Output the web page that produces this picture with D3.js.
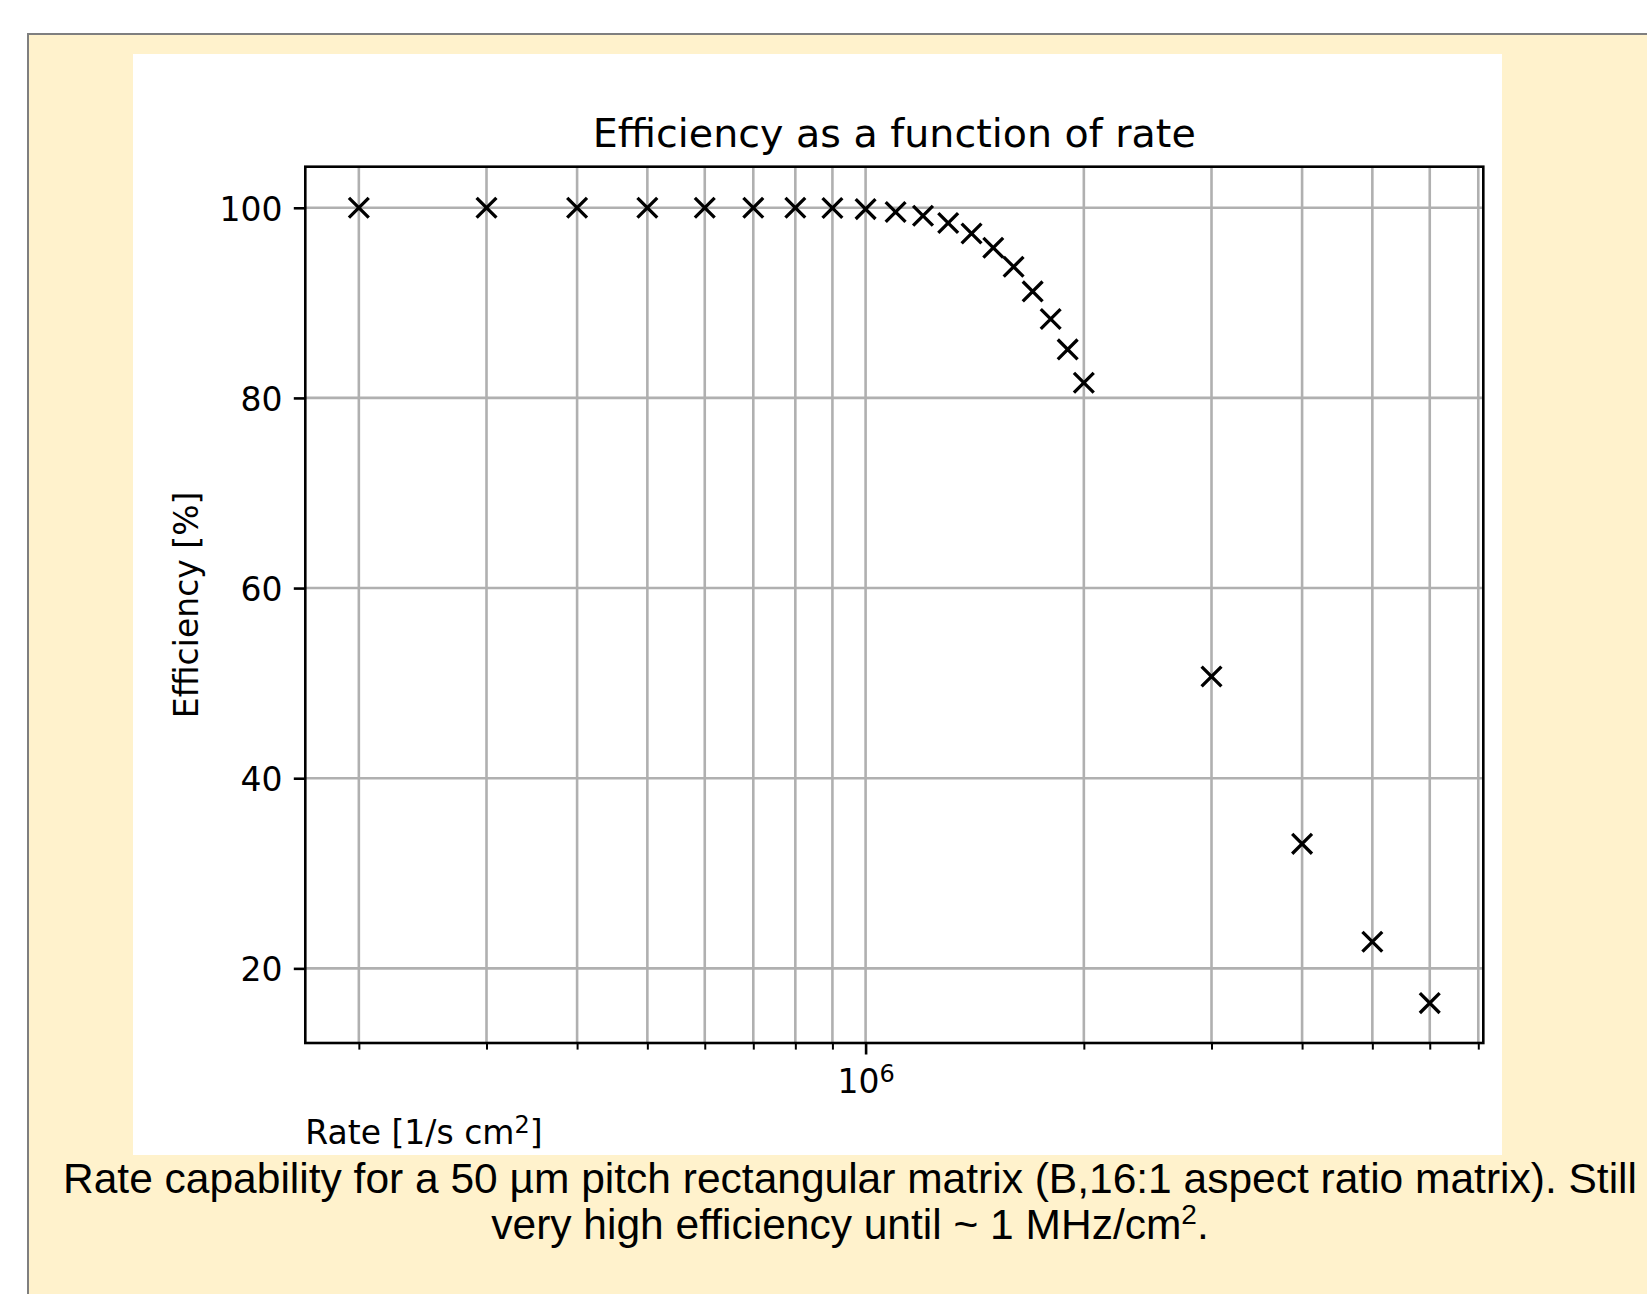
<!DOCTYPE html>
<html><head><meta charset="utf-8">
<script src="https://cdn.jsdelivr.net/npm/d3@7"></script>
<style>body{margin:0;background:#fff;overflow:hidden}</style></head>
<body><svg id="c" width="1647" height="1294"></svg>
<script>
// ---- data ----
const rates = [2e5, 3e5, 4e5, 5e5, 6e5, 7e5, 8e5, 9e5, 1e6, 1.1e6, 1.2e6, 1.3e6, 1.4e6, 1.5e6, 1.6e6, 1.7e6, 1.8e6, 1.9e6, 2e6, 3e6, 4e6, 5e6, 6e6];
const efficiency = [100, 100, 100, 100, 100, 100, 100, 99.97, 99.86, 99.55, 99.16, 98.4, 97.3, 95.8, 93.8, 91.2, 88.3, 85.1, 81.6, 50.7, 33.1, 22.8, 16.35];
const yTickValues = [20, 40, 60, 80, 100];
const xMajorTicks = [1e6];
const xMinorTicks = [2e5, 3e5, 4e5, 5e5, 6e5, 7e5, 8e5, 9e5, 2e6, 3e6, 4e6, 5e6, 6e6, 7e6];
const titleText = "Efficiency as a function of rate";
const yLabelText = "Efficiency [%]";
const captionLine1 = "Rate capability for a 50 µm pitch rectangular matrix (B,16:1 aspect ratio matrix). Still";
const captionLine2 = "very high efficiency until ~ 1 MHz/cm";

// ---- layout ----
const svg = d3.select("#c");
const L = 305.3, R = 1483.3, T = 166.7, B = 1043;
const FONT = "'DejaVu Sans', sans-serif";

// slide box
svg.append("rect").attr("x", 28).attr("y", 34).attr("width", 1700).attr("height", 1400)
  .attr("fill", "#fff2cc").attr("stroke", "#7f7f7f").attr("stroke-width", 2);
// white figure
svg.append("rect").attr("x", 133).attr("y", 54).attr("width", 1369).attr("height", 1101).attr("fill", "#fff");

const x = d3.scaleLog().domain([Math.pow(10, 5.22717), Math.pow(10, 6.85201)]).range([L, R]);
const y = d3.scaleLinear().domain([12.15, 104.32]).range([B, T]);

// grid
const g = svg.append("g");
g.selectAll("line.vg").data(xMajorTicks.concat(xMinorTicks)).join("line")
  .attr("x1", d => x(d)).attr("x2", d => x(d)).attr("y1", T).attr("y2", B)
  .attr("stroke", "#b0b0b0").attr("stroke-width", 2.6);
g.selectAll("line.hg").data(yTickValues).join("line")
  .attr("x1", L).attr("x2", R).attr("y1", d => y(d)).attr("y2", d => y(d))
  .attr("stroke", "#b0b0b0").attr("stroke-width", 2.6);

// markers
svg.append("g").selectAll("path").data(rates.map((r, i) => [r, efficiency[i]])).join("path")
  .attr("transform", d => `translate(${x(d[0])},${y(d[1])})`)
  .attr("d", "M-9.9,-9.9L9.9,9.9M-9.9,9.9L9.9,-9.9")
  .attr("stroke", "#000").attr("stroke-width", 3.3).attr("fill", "none");

// y axis
const ya = svg.append("g").attr("transform", `translate(${L},0)`)
  .call(d3.axisLeft(y).tickValues(yTickValues).tickSize(11.5).tickPadding(11.3).tickFormat(d3.format("d")));
ya.select(".domain").remove();
ya.selectAll(".tick line").attr("stroke", "#000").attr("stroke-width", 2.6);
ya.selectAll(".tick text").attr("font-family", FONT).attr("font-size", 33).attr("fill", "#000").attr("dy", "0.38em");

// x axis minor
const xm = svg.append("g").attr("transform", `translate(0,${B})`)
  .call(d3.axisBottom(x).tickValues(xMinorTicks).tickSize(6.6).tickFormat(""));
xm.select(".domain").remove();
xm.selectAll(".tick line").attr("stroke", "#000").attr("stroke-width", 2);

// x axis major
const xa = svg.append("g").attr("transform", `translate(0,${B})`)
  .call(d3.axisBottom(x).tickValues(xMajorTicks).tickSize(11.5).tickFormat(""));
xa.select(".domain").remove();
xa.selectAll(".tick line").attr("stroke", "#000").attr("stroke-width", 2.6);
xa.selectAll(".tick text").remove();
xa.selectAll(".tick").append("text")
  .attr("y", 49.7).attr("text-anchor", "middle").attr("font-family", FONT).attr("font-size", 33).attr("fill", "#000")
  .each(function(d) {
    const e = Math.round(Math.log10(d));
    const t = d3.select(this);
    t.append("tspan").text("10");
    t.append("tspan").attr("dy", -11).attr("font-size", 24).text(String(e));
  });

// spines
svg.append("rect").attr("x", L).attr("y", T).attr("width", R - L).attr("height", B - T)
  .attr("fill", "none").attr("stroke", "#000").attr("stroke-width", 2.6);

// title
svg.append("text").attr("x", (L + R) / 2).attr("y", 147).attr("text-anchor", "middle")
  .attr("font-family", FONT).attr("font-size", 39.6).attr("fill", "#000").text(titleText);

// y label
svg.append("text").attr("transform", `translate(198,${(T + B) / 2}) rotate(-90)`).attr("text-anchor", "middle")
  .attr("font-family", FONT).attr("font-size", 33).attr("fill", "#000").text(yLabelText);

// x label
const xl = svg.append("text").attr("x", L).attr("y", 1144).attr("font-family", FONT).attr("font-size", 33).attr("fill", "#000");
xl.append("tspan").text("Rate [1/s cm");
xl.append("tspan").attr("dy", -11).attr("font-size", 24).text("2");
xl.append("tspan").attr("dy", 11).text("]");

// caption
const CF = "'Liberation Sans', Arial, sans-serif";
svg.append("text").attr("x", 850).attr("y", 1193).attr("text-anchor", "middle")
  .attr("font-family", CF).attr("font-size", 42.5).attr("fill", "#000").text(captionLine1);
const c2 = svg.append("text").attr("x", 850).attr("y", 1239).attr("text-anchor", "middle")
  .attr("font-family", CF).attr("font-size", 42.5).attr("fill", "#000");
c2.append("tspan").text(captionLine2);
c2.append("tspan").attr("dy", -15).attr("font-size", 28).text("2");
c2.append("tspan").attr("dy", 15).text(".");
</script>
</body></html>
